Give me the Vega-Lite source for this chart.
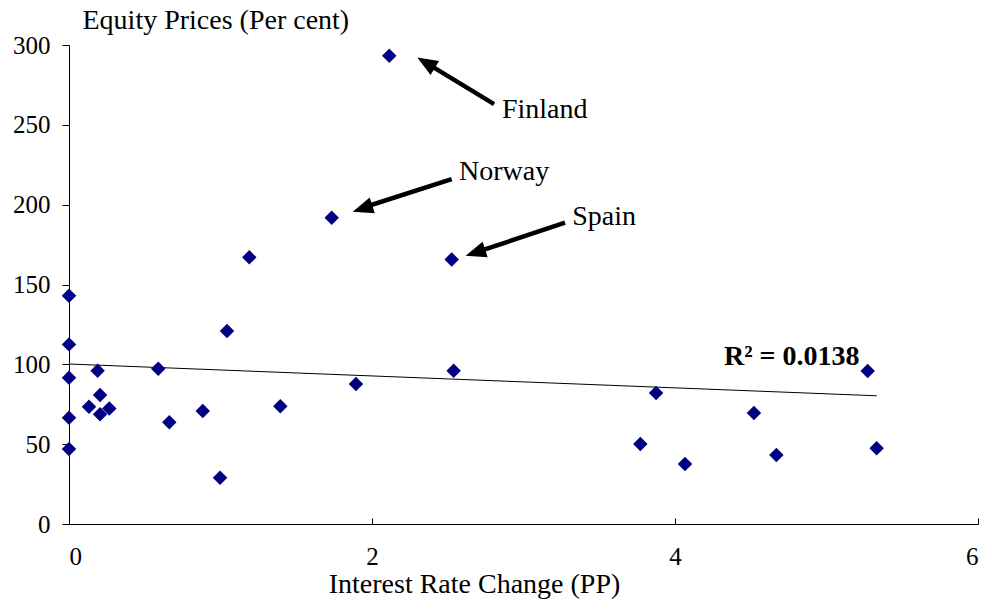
{
  "$schema": "https://vega.github.io/schema/vega-lite/v6.json",
  "width": 909,
  "height": 479,
  "autosize": {"type": "none"},
  "padding": {"left": 69, "top": 45, "right": 9, "bottom": 79},
  "background": "white",
  "config": {
    "view": {"stroke": null},
    "font": "Liberation Serif",
    "axis": {
      "grid": false,
      "domainColor": "#000000",
      "tickColor": "#000000",
      "labelColor": "#000000",
      "titleColor": "#000000",
      "labelFont": "Liberation Serif",
      "titleFont": "Liberation Serif",
      "labelFontSize": 25,
      "titleFontSize": 28,
      "titleFontWeight": "normal"
    },
    "text": {"font": "Liberation Serif"}
  },
  "datasets": {
    "points": [
      {"rate": 0.0, "equity": 143.0},
      {"rate": 0.0, "equity": 112.5},
      {"rate": 0.0, "equity": 91.6},
      {"rate": 0.0, "equity": 66.6},
      {"rate": 0.0, "equity": 47.0},
      {"rate": 0.132, "equity": 73.4},
      {"rate": 0.189, "equity": 96.0},
      {"rate": 0.205, "equity": 80.8},
      {"rate": 0.205, "equity": 68.7},
      {"rate": 0.266, "equity": 72.4},
      {"rate": 0.589, "equity": 97.2},
      {"rate": 0.662, "equity": 63.7},
      {"rate": 0.883, "equity": 70.8},
      {"rate": 0.997, "equity": 29.0},
      {"rate": 1.043, "equity": 120.9},
      {"rate": 1.190, "equity": 167.0},
      {"rate": 1.395, "equity": 73.7},
      {"rate": 1.734, "equity": 191.8},
      {"rate": 1.894, "equity": 87.7},
      {"rate": 2.114, "equity": 293.2},
      {"rate": 2.526, "equity": 165.7},
      {"rate": 2.539, "equity": 96.0},
      {"rate": 3.771, "equity": 50.1},
      {"rate": 3.875, "equity": 82.0},
      {"rate": 4.066, "equity": 37.6},
      {"rate": 4.521, "equity": 69.5},
      {"rate": 4.669, "equity": 43.2},
      {"rate": 5.272, "equity": 95.8},
      {"rate": 5.331, "equity": 47.4}
    ],
    "trend": [
      {"x1": 0, "y1": 100.2, "x2": 5.331, "y2": 80.3}
    ],
    "arrows": [
      {"country": "Finland", "tx": 2.806, "ty": 263.0, "sx": 2.344, "sy": 289.6, "hx": 2.299, "hy": 292.2, "lx": 2.858, "ly": 254.0},
      {"country": "Norway", "tx": 2.526, "ty": 216.0, "sx": 1.923, "sy": 197.6, "hx": 1.873, "hy": 195.6, "lx": 2.574, "ly": 215.4},
      {"country": "Spain", "tx": 3.274, "ty": 188.7, "sx": 2.669, "sy": 169.6, "hx": 2.618, "hy": 168.0, "lx": 3.322, "ly": 187.2}
    ],
    "rsq": [
      {"x": 4.323, "y": 99.6, "label": "R² = 0.0138"}
    ]
  },
  "layer": [
    {
      "data": {"name": "trend"},
      "mark": {"type": "rule", "color": "#000000", "strokeWidth": 1},
      "encoding": {
        "x": {"field": "x1", "type": "quantitative", "scale": {"domain": [0, 6], "nice": false, "zero": false},
          "axis": {"values": [0, 2, 4, 6], "format": "d", "tickSize": -6, "labelPadding": 26, "domainWidth": 1,
            "labelFont": "Liberation Serif", "titleFont": "Liberation Serif", "labelFontSize": 25, "titleFontSize": 28,
            "title": "Interest Rate Change (PP)", "titleX": 405, "titleY": 68, "titleAlign": "center", "titleBaseline": "alphabetic", "titleAnchor": null}},
        "y": {"field": "y1", "type": "quantitative", "scale": {"domain": [0, 300], "nice": false},
          "axis": {"values": [0, 50, 100, 150, 200, 250, 300], "format": "d", "tickSize": 7, "labelPadding": 12,
            "labelFont": "Liberation Serif", "titleFont": "Liberation Serif", "labelFontSize": 25, "titleFontSize": 28,
            "title": "Equity Prices (Per cent)", "titleAngle": 0, "titleX": 13, "titleY": -17, "titleAlign": "left", "titleBaseline": "alphabetic", "titleAnchor": null}},
        "x2": {"field": "x2"},
        "y2": {"field": "y2"}
      }
    },
    {
      "data": {"name": "points"},
      "mark": {"type": "point", "shape": "diamond", "filled": true, "opacity": 1, "size": 210, "color": "#000080"},
      "encoding": {
        "x": {"field": "rate", "type": "quantitative"},
        "y": {"field": "equity", "type": "quantitative"}
      }
    },
    {
      "data": {"name": "arrows"},
      "mark": {"type": "rule", "color": "#000000", "strokeWidth": 4.5, "strokeCap": "butt"},
      "encoding": {
        "x": {"field": "tx", "type": "quantitative"},
        "y": {"field": "ty", "type": "quantitative"},
        "x2": {"field": "sx"},
        "y2": {"field": "sy"}
      }
    },
    {
      "data": {"name": "arrows"},
      "transform": [{"filter": "datum.country === 'Finland'"}],
      "mark": {"type": "point", "shape": "M0,0L0.8,2L-0.8,2Z", "filled": true, "opacity": 1, "size": 420, "color": "#000000", "angle": 301.3},
      "encoding": {
        "x": {"field": "hx", "type": "quantitative"},
        "y": {"field": "hy", "type": "quantitative"}
      }
    },
    {
      "data": {"name": "arrows"},
      "transform": [{"filter": "datum.country !== 'Finland'"}],
      "mark": {"type": "point", "shape": "M0,0L0.8,2L-0.8,2Z", "filled": true, "opacity": 1, "size": 420, "color": "#000000", "angle": 252},
      "encoding": {
        "x": {"field": "hx", "type": "quantitative"},
        "y": {"field": "hy", "type": "quantitative"}
      }
    },
    {
      "data": {"name": "arrows"},
      "mark": {"type": "text", "font": "Liberation Serif", "fontSize": 28, "align": "left", "baseline": "alphabetic", "color": "#000000"},
      "encoding": {
        "x": {"field": "lx", "type": "quantitative"},
        "y": {"field": "ly", "type": "quantitative"},
        "text": {"field": "country"}
      }
    },
    {
      "data": {"name": "rsq"},
      "mark": {"type": "text", "font": "Liberation Serif", "fontSize": 28, "fontWeight": "bold", "align": "left", "baseline": "alphabetic", "color": "#000000"},
      "encoding": {
        "x": {"field": "x", "type": "quantitative"},
        "y": {"field": "y", "type": "quantitative"},
        "text": {"field": "label"}
      }
    }
  ]
}
